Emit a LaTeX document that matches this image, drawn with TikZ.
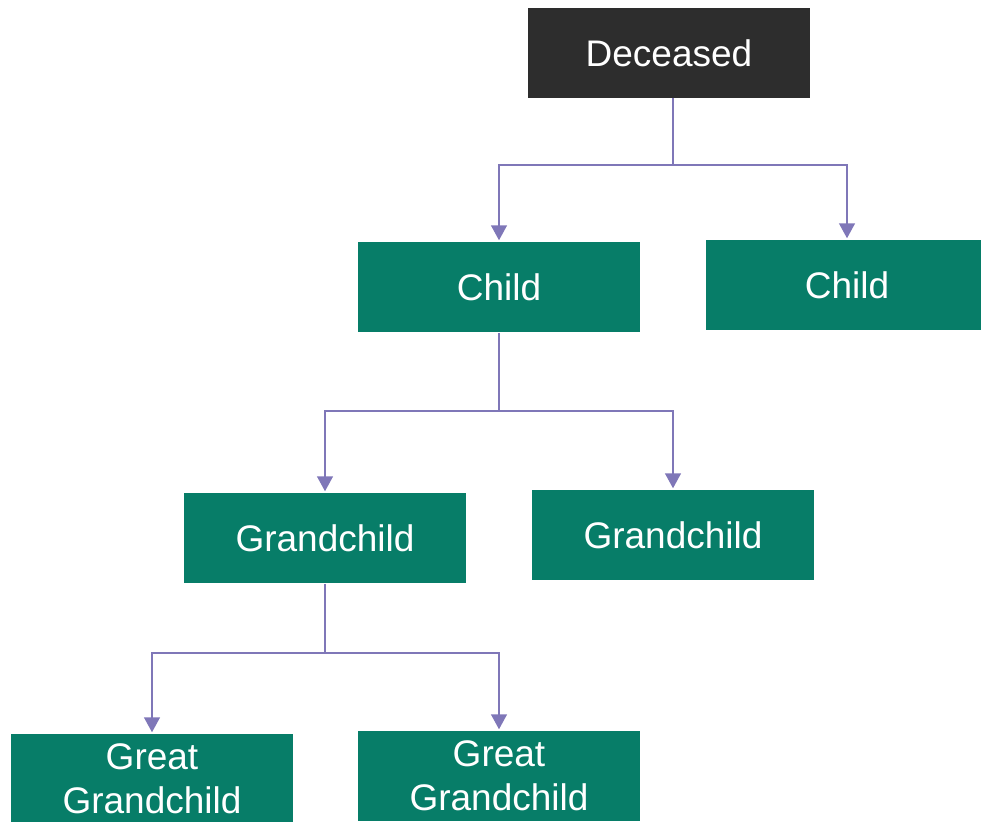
\documentclass[tikz,border=0pt]{standalone}
\usepackage{fontspec}
\setmainfont{Liberation Sans}
\usetikzlibrary{arrows.meta}
\definecolor{deadgray}{HTML}{2D2D2D}
\definecolor{heirgreen}{HTML}{077D68}
\definecolor{linkpurple}{HTML}{7F77B8}
\begin{document}
\begin{tikzpicture}[x=1pt,y=1pt,-{Triangle[width=16pt,length=15pt]},shorten >=1pt,line width=1.5pt,draw=linkpurple,
	person/.style={rectangle,minimum width=282pt,minimum height=90pt,inner sep=0pt,text=white,align=center,font=\fontsize{37}{44}\selectfont},
	dead node/.style={person,fill=deadgray},
	heir node/.style={person,fill=heirgreen}]
		\useasboundingbox (0,0) rectangle (981,-821);
		\node[dead node] (dec) at (669,-53) {Deceased};
		\node[heir node] (c1) at (499,-287) {Child};
		\node[heir node] (c2) at (847,-285) {Child};
		\node[heir node] (g1) at (325,-538) {Grandchild};
		\node[heir node] (g2) at (673,-535) {Grandchild};
		\node[heir node] (gg1) at (152,-779) {Great\\Grandchild};
		\node[heir node] (gg2) at (499,-776) {Great\\Grandchild};
		
		\coordinate (j1) at (673,-165);
		\coordinate (j2) at (499,-411);
		\coordinate (j3) at (325,-653);
		
		\draw[-] (673,-98) -- (j1);
		\draw (j1) -| (c1.north);
		\draw (j1) -| (c2.north);
		\draw[-] (c1.south) -- (j2);
		\draw (j2) -| (g1.north);
		\draw (j2) -| (g2.north);
		\draw[-] (g1.south) -- (j3);
		\draw (j3) -| (gg1.north);
		\draw (j3) -| (gg2.north);
		\end{tikzpicture}
\end{document}
